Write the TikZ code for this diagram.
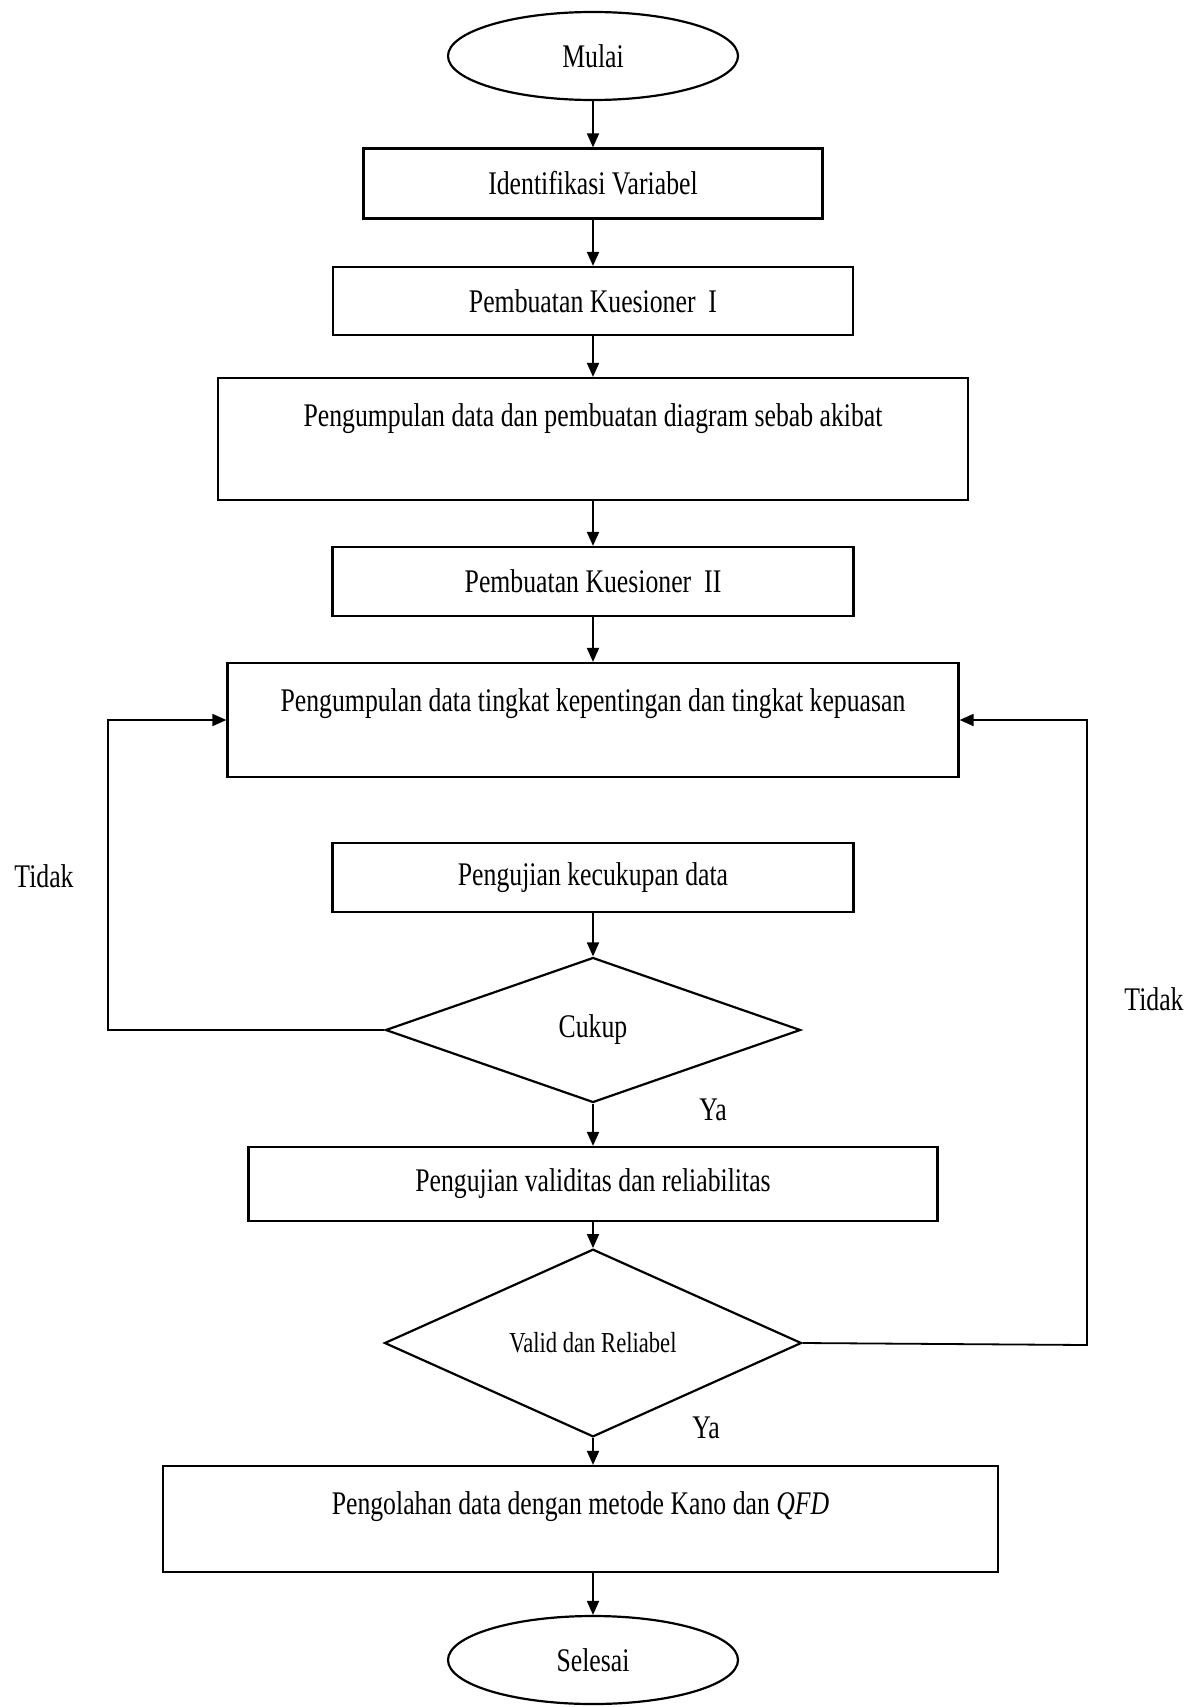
\documentclass[tikz,border=0pt]{standalone}
\usepackage{fontspec}
\setmainfont{Liberation Serif}[FakeStretch=0.78]
\usetikzlibrary{arrows.meta,shapes.geometric}
\tikzset{
  box/.style={draw,line width=1.1pt,inner sep=0pt,minimum height=35pt},
  tallbox/.style={draw,line width=1.1pt,inner xsep=0pt,inner ysep=0pt,text height=24pt},
  decision/.style={draw,diamond,line width=1.1pt,inner sep=0pt},
  terminal/.style={draw,ellipse,line width=1.1pt,minimum width=145pt,minimum height=44pt},
  flow/.style={line width=0.9pt,-{Triangle[length=7pt,width=6pt]}}
}
\begin{document}
\begin{tikzpicture}[x=0.5pt,y=-0.5pt,font=\fontsize{16.5}{19}\selectfont]
  \useasboundingbox (0,0) rectangle (1194,1707);

  \node[terminal] (mulai) at (593,56) {Mulai};
  \node[box,minimum width=229.5pt] (idvar) at (593,183.5) {Identifikasi Variabel};
  \node[box,minimum width=260pt,minimum height=34pt] (kues1) at (593,301) {Pembuatan Kuesioner\ \ I};
  \node[tallbox,minimum width=375pt,text depth=37pt] (kumpul1) at (593,439) {Pengumpulan data dan pembuatan diagram sebab\ akibat};
  \node[box,minimum width=260.5pt,minimum height=34.5pt] (kues2) at (593,581.5) {Pembuatan Kuesioner\ \ II};
  \node[tallbox,minimum width=365.5pt,text depth=33pt] (kumpul2) at (593,720) {Pengumpulan data tingkat kepentingan dan tingkat\ kepuasan};
  \node[box,minimum width=260.5pt,minimum height=34.5pt] (cukupdata) at (593,877.5) {Pengujian kecukupan data};
  \node[decision,minimum width=207.5pt,minimum height=72.5pt] (cukup) at (593,1030) {Cukup};
  \node[box,minimum width=344.5pt,minimum height=37pt] (validitas) at (593,1184) {Pengujian validitas\ dan reliabilitas};
  \node[decision,minimum width=208.5pt,minimum height=77.5pt,font=\fontsize{14.5}{17}\selectfont] (valid) at (593,1343) {Valid dan Reliabel\\[6pt]};
  \node[tallbox,minimum width=417.5pt,text depth=29pt] (olah) at (580.5,1519) {Pengolahan data dengan metode Kano dan \textit{QFD}};
  \node[terminal] (selesai) at (593,1660) {Selesai};

  \coordinate (kiri) at (108,1030);
  \coordinate (kanan) at (1087,1345);

  \node (tidak1) at (44,876) {Tidak};
  \node (tidak2) at (1154,999) {Tidak};
  \node (ya1) at (713,1110) {Ya};
  \node (ya2) at (706,1428) {Ya};

  \draw[flow] (mulai) -- (idvar);
  \draw[flow] (idvar) -- (kues1);
  \draw[flow] (kues1) -- (kumpul1);
  \draw[flow] (kumpul1) -- (kues2);
  \draw[flow] (kues2) -- (kumpul2);
  \draw[flow] (cukupdata) -- (cukup);
  \draw[flow] (cukup) -- (validitas);
  \draw[flow] (validitas) -- (valid);
  \draw[flow] (valid) -- (valid |- olah.north);
  \draw[flow] (selesai |- olah.south) -- (selesai);
  \draw[flow] (cukup.west) -- (kiri) |- (kumpul2.west);
  \draw[flow] (valid.east) -- (kanan) |- (kumpul2.east);
\end{tikzpicture}
\end{document}
